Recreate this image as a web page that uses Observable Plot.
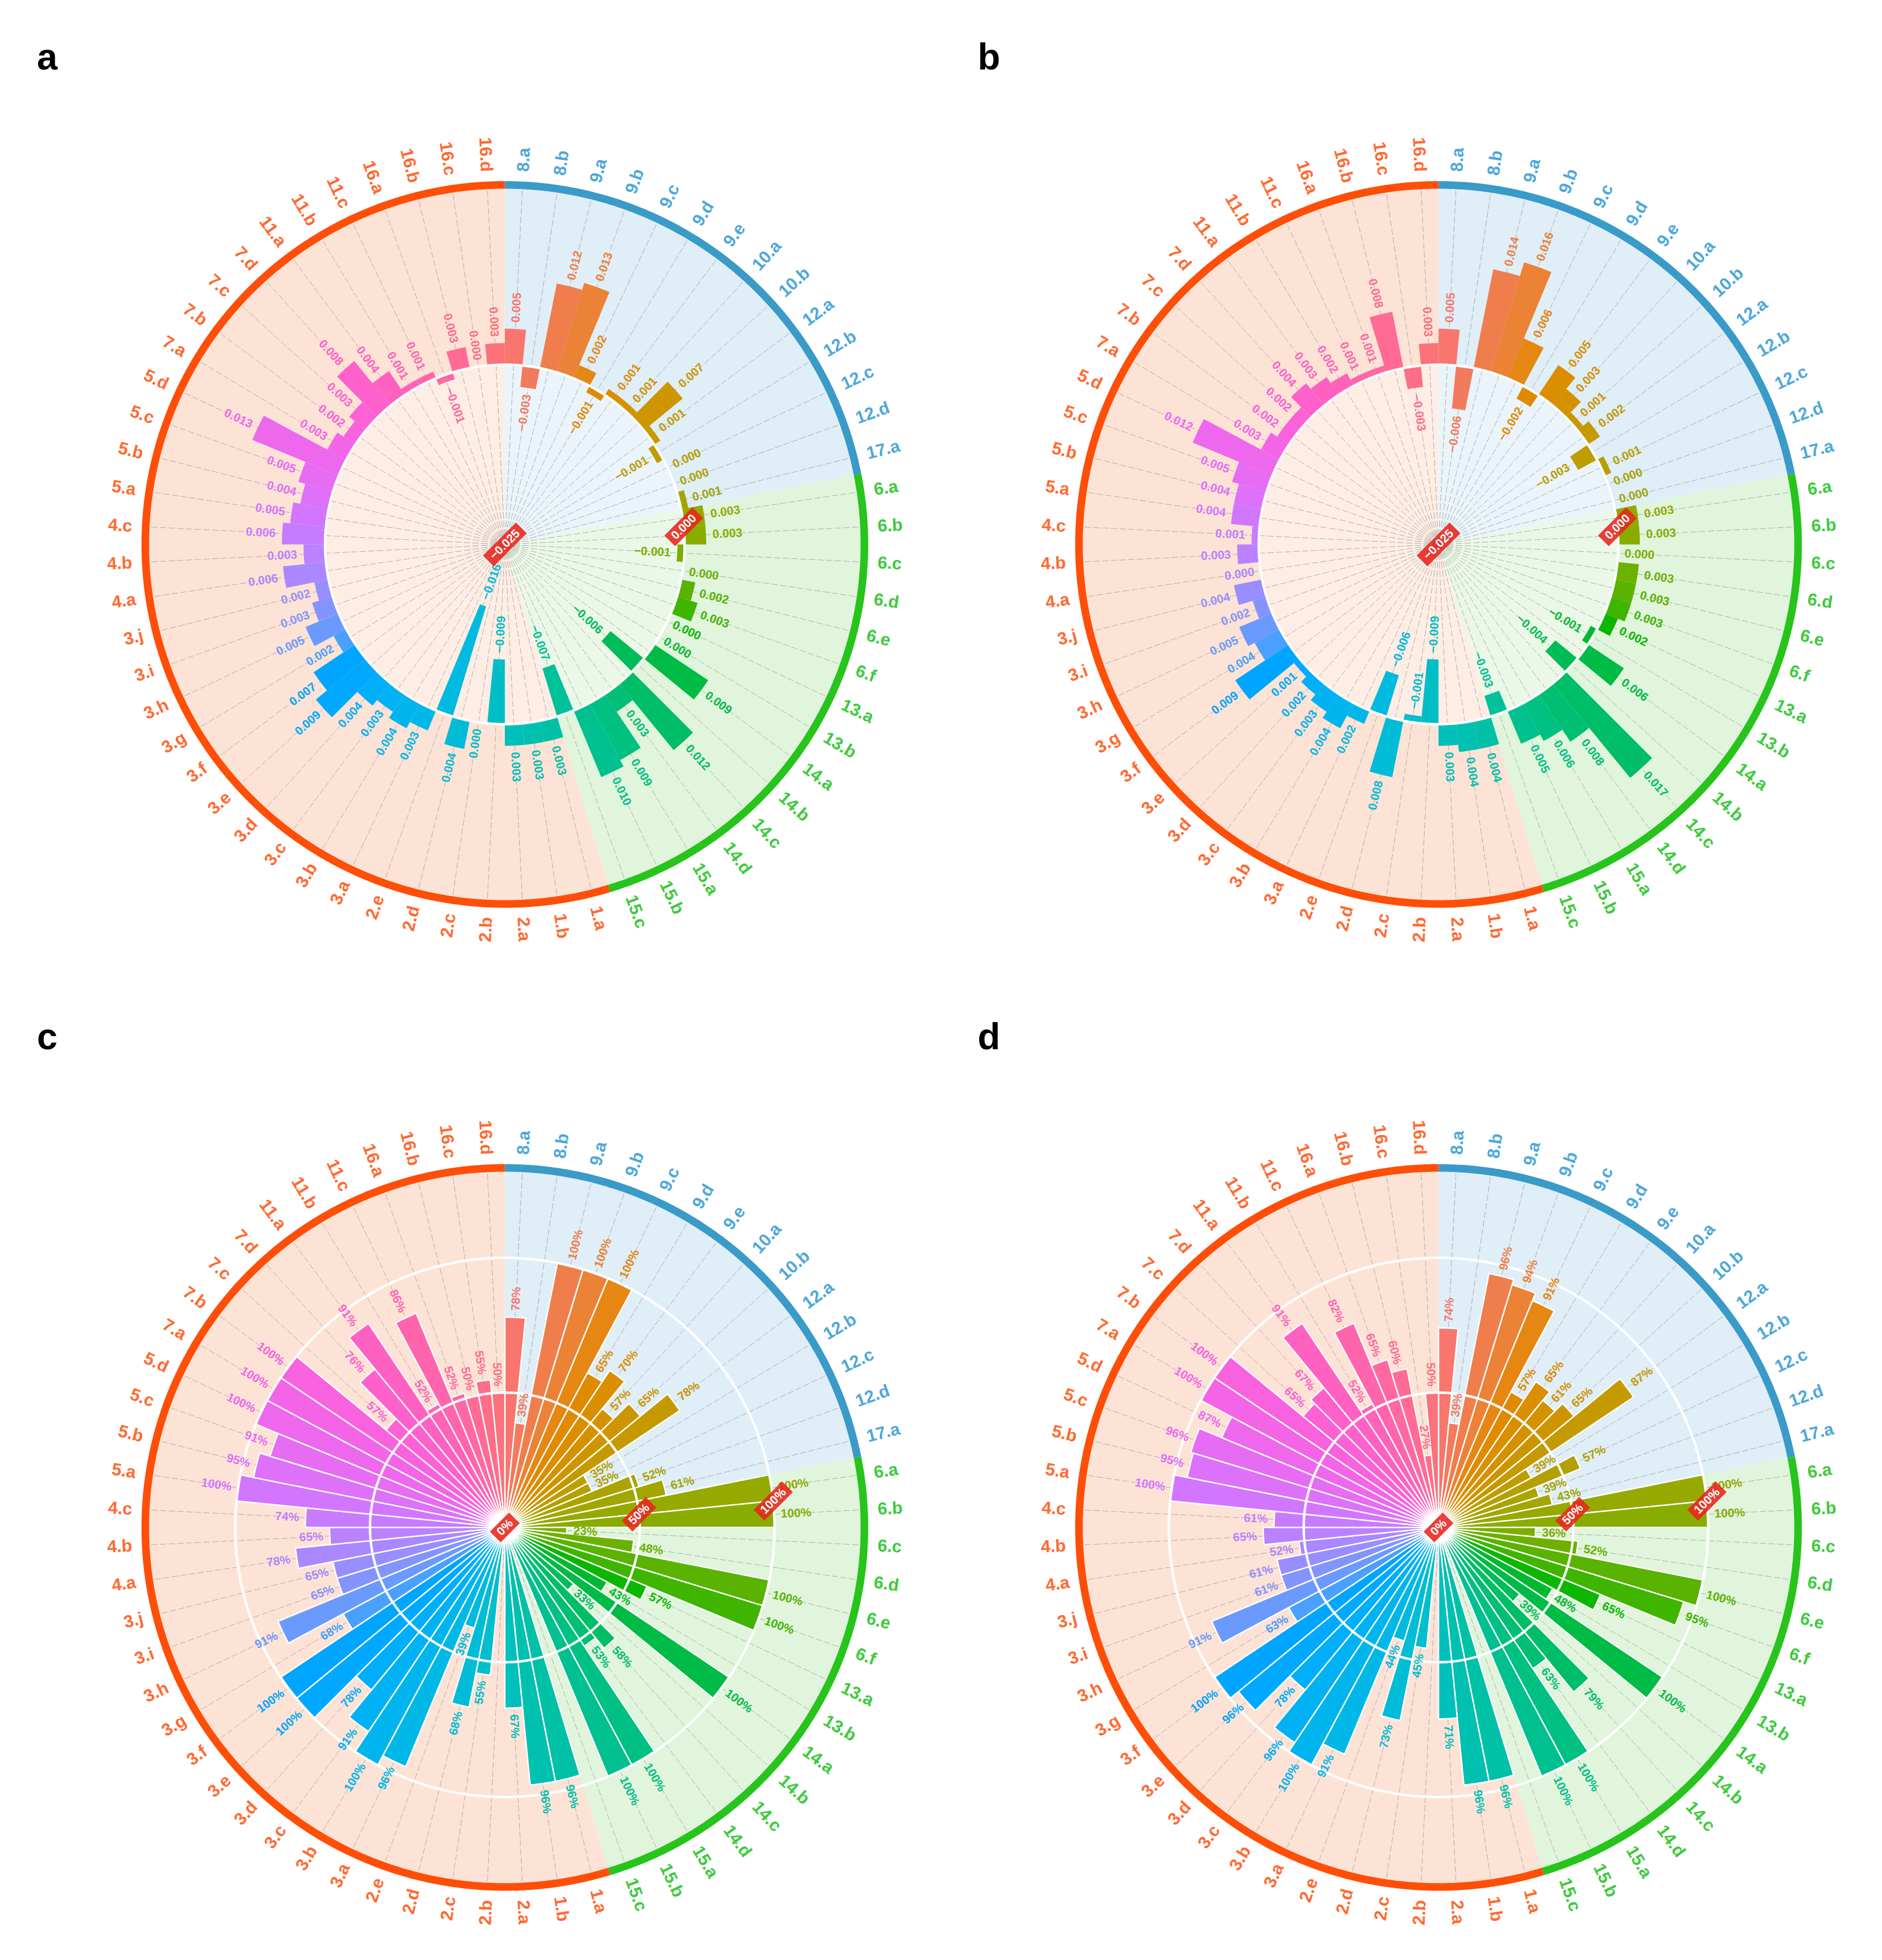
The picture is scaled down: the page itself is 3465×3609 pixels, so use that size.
<!DOCTYPE html>
<html>
<head>
<meta charset="utf-8">
<script src="https://cdn.jsdelivr.net/npm/d3@7"></script>
<script src="https://cdn.jsdelivr.net/npm/@observablehq/plot@0.6"></script>
<style>
  body { margin: 0; background: #fff; }
  #page { position: relative; width: 3465px; height: 3609px; overflow: hidden; background: #fff; }
  .panel { position: absolute; }
  .letter { position: absolute; font: bold 68px "Liberation Sans", Arial, sans-serif; line-height: 68px; color: #000; }
</style>
</head>
<body>
<div id="page"></div>
<script>
// ---------- categories ----------
const blueTargets = ["8.a","8.b","9.a","9.b","9.c","9.d","9.e","10.a","10.b","12.a","12.b","12.c","12.d","17.a"];
const greenTargets = ["6.a","6.b","6.c","6.d","6.e","6.f","13.a","13.b","14.a","14.b","14.c","14.d","15.a","15.b","15.c"];
const orangeTargets = ["1.a","1.b","2.a","2.b","2.c","2.d","2.e","3.a","3.b","3.c","3.d","3.e","3.f","3.g","3.h","3.i","3.j",
  "4.a","4.b","4.c","5.a","5.b","5.c","5.d","7.a","7.b","7.c","7.d","11.a","11.b","11.c","16.a","16.b","16.c","16.d"];

// ---------- series values (one per target, clockwise from 8.a) ----------
const valuesA = [
  0.005,-0.003,0.012,0.013,0.002,-0.001,0.001,0.001,0.007,0.001,-0.001,0.000,0.000,0.001,
  0.003,0.003,-0.001,0.000,0.002,0.003,0.000,0.000,0.009,-0.006,0.012,0.003,0.009,0.010,-0.007,
  0.003,0.003,0.003,-0.009,0.000,0.004,-0.016,
  0.003,0.004,0.003,0.004,0.009,0.007,0.002,0.005,0.003,0.002,
  0.006,0.003,0.006, 0.005,0.004,0.005,0.013, 0.003,0.002,0.003,0.008,
  0.004,0.001,0.001, -0.001,0.003,0.000,0.003];
const valuesB = [
  0.005,-0.006,0.014,0.016,0.006,-0.002,0.005,0.003,0.001,0.002,-0.003,0.001,0.000,0.000,
  0.003,0.003,0.000,0.003,0.003,0.003,0.002,-0.001,0.006,-0.004,0.017,0.008,0.006,0.005,-0.003,
  0.004,0.004,0.003,-0.009,-0.001,0.008,-0.006,
  0.002,0.004,0.003,0.002,0.001,0.009,0.004,0.005,0.002,0.004,
  0.000,0.003,0.001, 0.004,0.004,0.005,0.012, 0.003,0.002,0.002,0.004,
  0.003,0.002,0.001, 0.001,0.008,-0.003,0.003];
const valuesC = [
  0.78,0.39,1.00,1.00,1.00,0.65,0.70,0.57,0.65,0.78,0.35,0.35,0.52,0.61,
  1.00,1.00,0.23,0.48,1.00,1.00,0.57,0.43,1.00,0.33,0.58,0.53,1.00,1.00,null,
  0.96,0.96,0.67,null,0.55,0.68,0.39,
  0.96,1.00,0.91,0.78,1.00,1.00,0.68,0.91,0.65,0.65,
  0.78,0.65,0.74, 1.00,0.95,0.91,1.00, 1.00,1.00,0.57,0.76,
  0.91,0.52,0.86, 0.52,0.50,0.55,0.50];
const valuesD = [
  0.74,0.39,0.96,0.94,0.91,0.57,0.65,0.61,0.65,0.87,0.39,0.57,0.39,0.43,
  1.00,1.00,0.36,0.52,1.00,0.95,0.65,0.48,1.00,0.39,0.79,0.63,1.00,1.00,null,
  0.96,0.96,0.71,null,0.45,0.73,0.44,
  0.91,1.00,0.96,0.78,0.96,1.00,0.63,0.91,0.61,0.61,
  0.52,0.65,0.61, 1.00,0.95,0.96,0.87, 1.00,1.00,0.65,0.67,
  0.91,0.52,0.82, 0.65,0.60,0.27,0.50];

// ---------- radial axis settings ----------
const domainAB = [-0.025, 0.025];
const ticksAB = [-0.025, 0];
const domainCD = [0, 4 / 3];
const ticksCD = [0, 0.5, 1];

// ---------- styling ----------
const groupStyle = {
  blue:   {ring: "#3A9AC8", label: "#4EA8D9", bg: "#DFEEF7"},
  green:  {ring: "#27C41B", label: "#3ECB3E", bg: "#E0F5DC"},
  orange: {ring: "#FF4E08", label: "#FF6A32", bg: "#FDE3D6"}
};
const FONT = "Liberation Sans, Arial, Helvetica, sans-serif";

const groups = [
  {key: "blue", targets: blueTargets},
  {key: "green", targets: greenTargets},
  {key: "orange", targets: orangeTargets}
];
const targets = groups.flatMap(g => g.targets);
const targetGroup = groups.flatMap(g => g.targets.map(() => g.key));
const N = targets.length;
const step = 360 / N;

// ggplot2-style hue palette (R hcl, polar LUV)
function hclR(h, c, l) {
  const WY = 100, Wu = 0.1978398, Wv = 0.4683363;
  const hr = h * Math.PI / 180;
  const U = c * Math.cos(hr), V = c * Math.sin(hr);
  const Y = WY * (l > 7.999592 ? Math.pow((l + 16) / 116, 3) : l / 903.3);
  const u = U / (13 * l) + Wu, v = V / (13 * l) + Wv;
  const X = 9.0 * Y * u / (4 * v);
  const Z = -X / 3 - 5 * Y + 3 * Y / v;
  const g = t => t > 0.00304 ? 1.055 * Math.pow(t, 1 / 2.4) - 0.055 : 12.92 * t;
  const rgb = [
    g((3.240479 * X - 1.537150 * Y - 0.498535 * Z) / WY),
    g((-0.969256 * X + 1.875992 * Y + 0.041556 * Z) / WY),
    g((0.055648 * X - 0.204043 * Y + 1.057311 * Z) / WY)
  ];
  return "#" + rgb.map(t => Math.max(0, Math.min(255, Math.round(255 * t))).toString(16).padStart(2, "0")).join("");
}
const barColors = targets.map((_, i) => hclR(15 + 360 * i / N, 100, 65));

const deg = Math.PI / 180;
const pt = (r, a) => ({x: r * Math.sin(a * deg), y: r * Math.cos(a * deg)});
function arcPts(r, a0, a1, n) {
  const out = [];
  for (let k = 0; k <= n; k++) out.push(pt(r, a0 + (a1 - a0) * k / n));
  return out;
}
const charW = {"0":.556,"1":.556,"2":.556,"3":.556,"4":.556,"5":.556,"6":.556,"7":.556,"8":.556,"9":.556,".":.278,"%":.889,"\u2212":.584,"-":.333};
const textWidth = (s, fs) => [...s].reduce((w, ch) => w + (charW[ch] ?? .556), 0) * fs;

function panel(cfg) {
  const W = 1733, H = 1805, R = 662;
  const [lo, hi] = cfg.domain;
  const rr = v => (v - lo) / (hi - lo);
  const rb = rr(cfg.base);
  const px = p => p / R;

  // background sectors and coloured ring
  let start = 0;
  const sectorPts = [], ringPts = [];
  groups.forEach(g => {
    const a0 = start, a1 = start + g.targets.length * step;
    const n = Math.ceil((a1 - a0) / 0.5);
    const st = groupStyle[g.key];
    sectorPts.push({x: 0, y: 0, g: g.key, c: st.bg});
    arcPts(1, a0, a1, n).forEach(p => sectorPts.push({...p, g: g.key, c: st.bg}));
    arcPts(1, a0, a1, n).forEach(p => ringPts.push({...p, g: g.key, c: st.ring}));
    start = a1;
  });

  // inner lightening disc
  const innerPts = cfg.pct ? [] : arcPts(rb, 0, 360, 360);

  // dashed radial guides
  const spokes = targets.map((t, i) => {
    const p = pt(1, (i + 0.5) * step);
    return {x1: 0, y1: 0, x2: p.x, y2: p.y};
  });

  // bars
  const barPts = [];
  cfg.values.forEach((v, i) => {
    if (v == null) return;
    const r0 = Math.min(rb, rr(v)), r1 = Math.max(rb, rr(v));
    if (r1 - r0 < 1e-6) return;
    const a0 = i * step, a1 = (i + 1) * step;
    [...arcPts(r0, a0, a1, 6), ...arcPts(r1, a1, a0, 6)]
      .forEach(p => barPts.push({...p, id: i, c: barColors[i]}));
  });

  // grid circles
  const gridPts = [];
  cfg.ticks.forEach((t, k) => {
    const r = rr(t);
    if (r <= 0.001) return;
    arcPts(r, 0, 360, 360).forEach(p => gridPts.push({...p, k}));
  });

  // outer category labels
  const catLabels = targets.map((t, i) => {
    const a = (i + 0.5) * step;
    const right = a < 180;
    const p = pt(1 + px(25), a);
    return {...p, text: t, rot: right ? a - 90 : a - 270, anchor: right ? "start" : "end", c: groupStyle[targetGroup[i]].label};
  });

  // value labels
  const valLabels = [];
  cfg.values.forEach((v, i) => {
    if (v == null) return;
    const a = (i + 0.5) * step;
    const right = a < 180;
    const pos = v >= cfg.base;
    const r = pos ? rr(v) + px(12) : rr(v) - px(12);
    const p = pt(r, a);
    const anchor = right ? (pos ? "start" : "end") : (pos ? "end" : "start");
    valLabels.push({...p, text: cfg.fmt(v), rot: right ? a - 90 : a - 270, anchor, c: barColors[i]});
  });

  // red tick labels with boxes
  const tickAngle = 15 * step;
  const phi = -45 * deg;
  const d = {x: Math.cos(phi), y: -Math.sin(phi)};
  const nrm = {x: -d.y, y: d.x};
  const tickLabels = [], tickBoxes = [];
  cfg.ticks.forEach((t, k) => {
    const r = rr(t);
    const c = pt(r, tickAngle);
    const text = cfg.tickFmt(t);
    const hl = px(textWidth(text, 22) / 2 + 9), hh = px(14);
    tickLabels.push({...c, text});
    [[1, 1], [1, -1], [-1, -1], [-1, 1]].forEach(([s1, s2]) =>
      tickBoxes.push({x: c.x + s1 * d.x * hl + s2 * nrm.x * hh, y: c.y + s1 * d.y * hl + s2 * nrm.y * hh, k}));
  });

  const textCommon = {x: "x", y: "y", text: "text", rotate: "rot", fontFamily: FONT, fontWeight: "bold"};

  return Plot.plot({
    width: W, height: H, margin: 0,
    x: {domain: [-cfg.cx / R, (W - cfg.cx) / R], range: [0, W], axis: null},
    y: {domain: [-(H - cfg.cy) / R, cfg.cy / R], range: [H, 0], axis: null},
    color: {type: "identity"},
    style: {background: "none", overflow: "visible"},
    marks: [
      Plot.line(sectorPts, {x: "x", y: "y", z: "g", fill: "c", stroke: "none", curve: "linear-closed"}),
      Plot.line(innerPts, {x: "x", y: "y", fill: "white", fillOpacity: 0.35, stroke: "none", curve: "linear-closed"}),
      Plot.link(spokes, {x1: "x1", y1: "y1", x2: "x2", y2: "y2", stroke: "#a3a3a3", strokeWidth: 0.9, strokeDasharray: "12,4"}),
      Plot.line(barPts, {x: "x", y: "y", z: "id", fill: "c", stroke: cfg.pct ? "white" : "none", strokeWidth: 2.5, strokeLinejoin: "miter", curve: "linear-closed"}),
      Plot.line(gridPts, {x: "x", y: "y", z: "k", stroke: "white", strokeWidth: 4.5, curve: "linear-closed"}),
      Plot.line(ringPts, {x: "x", y: "y", z: "g", stroke: "c", strokeWidth: 14, strokeLinecap: "butt", strokeLinejoin: "round"}),
      Plot.text(catLabels.filter(d => d.anchor === "start"), {...textCommon, fill: "c", fontSize: 32, textAnchor: "start"}),
      Plot.text(catLabels.filter(d => d.anchor === "end"), {...textCommon, fill: "c", fontSize: 32, textAnchor: "end"}),
      Plot.text(valLabels.filter(d => d.anchor === "start"), {...textCommon, fill: "c", fontSize: 22, textAnchor: "start"}),
      Plot.text(valLabels.filter(d => d.anchor === "end"), {...textCommon, fill: "c", fontSize: 22, textAnchor: "end"}),
      Plot.line(tickBoxes, {x: "x", y: "y", z: "k", fill: "#E8241D", fillOpacity: 0.88, stroke: "none", curve: "linear-closed"}),
      Plot.text(tickLabels, {x: "x", y: "y", text: "text", rotate: -45, fill: "white", fontSize: 22, fontFamily: FONT, fontWeight: "bold"})
    ]
  });
}

const fmtAB = d3.format(".3f");
const fmtCD = d3.format(".0%");
const panels = [
  {letter: "a", values: valuesA, domain: domainAB, ticks: ticksAB, base: 0, fmt: fmtAB, tickFmt: fmtAB, pct: false, left: 0, top: 0, cx: 929, cy: 1002},
  {letter: "b", values: valuesB, domain: domainAB, ticks: ticksAB, base: 0, fmt: fmtAB, tickFmt: fmtAB, pct: false, left: 1732, top: 0, cx: 916, cy: 1002},
  {letter: "c", values: valuesC, domain: domainCD, ticks: ticksCD, base: 0, fmt: fmtCD, tickFmt: fmtCD, pct: true, left: 0, top: 1804, cx: 929, cy: 1008},
  {letter: "d", values: valuesD, domain: domainCD, ticks: ticksCD, base: 0, fmt: fmtCD, tickFmt: fmtCD, pct: true, left: 1732, top: 1804, cx: 916, cy: 1008}
];

const page = document.getElementById("page");
panels.forEach(cfg => {
  const wrap = document.createElement("div");
  wrap.className = "panel";
  wrap.style.left = cfg.left + "px";
  wrap.style.top = cfg.top + "px";
  wrap.appendChild(panel(cfg));
  page.appendChild(wrap);
  const L = document.createElement("div");
  L.className = "letter";
  L.textContent = cfg.letter;
  L.style.left = (cfg.left + 68) + "px";
  L.style.top = (cfg.top + 70) + "px";
  page.appendChild(L);
});
</script>
</body>
</html>
